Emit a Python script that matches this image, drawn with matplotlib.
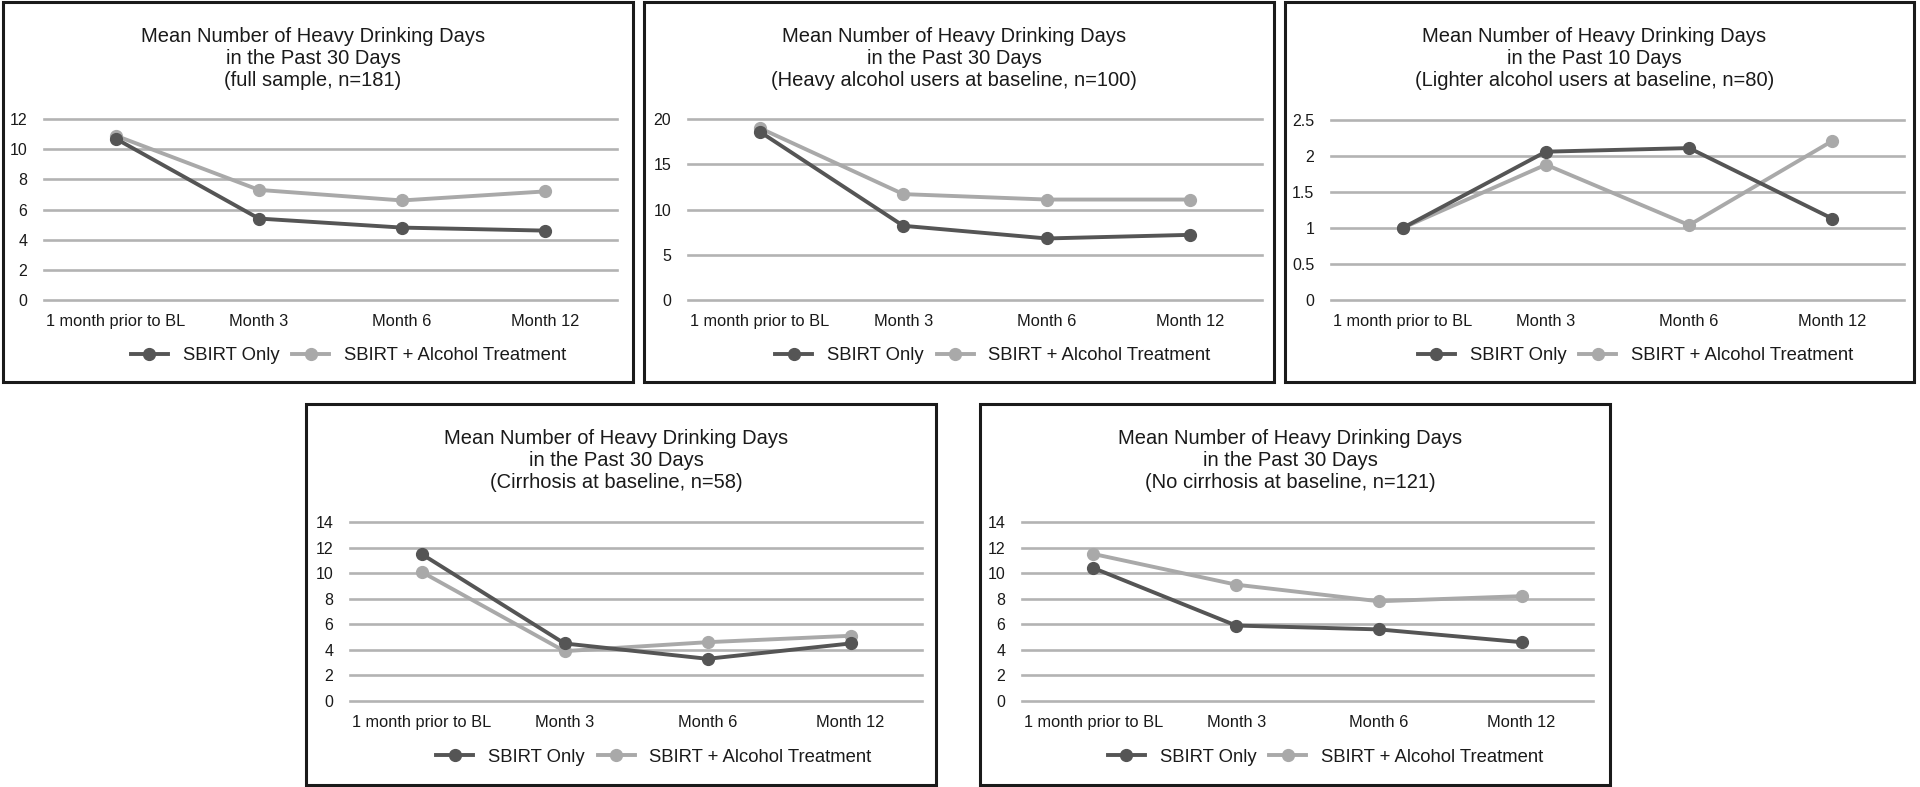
import matplotlib
matplotlib.use("Agg")
import matplotlib.pyplot as plt
from matplotlib.patches import Rectangle
from matplotlib.ticker import FuncFormatter

plt.rcParams['font.family'] = ['Liberation Sans', 'DejaVu Sans']

categories = ["1 month prior to BL", "Month 3", "Month 6", "Month 12"]
series_names = ["SBIRT Only", "SBIRT + Alcohol Treatment"]

full_only = [10.7, 5.4, 4.8, 4.6]
full_tx = [10.9, 7.3, 6.6, 7.2]
heavy_only = [18.6, 8.2, 6.8, 7.2]
heavy_tx = [19.0, 11.7, 11.1, 11.1]
light_only = [1.0, 2.06, 2.11, 1.13]
light_tx = [1.0, 1.88, 1.04, 2.21]
cirr_only = [11.5, 4.5, 3.3, 4.5]
cirr_tx = [10.1, 3.9, 4.6, 5.1]
nocirr_only = [10.4, 5.9, 5.6, 4.6]
nocirr_tx = [11.5, 9.1, 7.8, 8.2]

titles = [
    "Mean Number of Heavy Drinking Days\nin the Past 30 Days\n(full sample, n=181)",
    "Mean Number of Heavy Drinking Days\nin the Past 30 Days\n(Heavy alcohol users at baseline, n=100)",
    "Mean Number of Heavy Drinking Days\nin the Past 10 Days\n(Lighter alcohol users at baseline, n=80)",
    "Mean Number of Heavy Drinking Days\nin the Past 30 Days\n(Cirrhosis at baseline, n=58)",
    "Mean Number of Heavy Drinking Days\nin the Past 30 Days\n(No cirrhosis at baseline, n=121)",
]
y_max = [12, 20, 2.5, 14, 14]
y_step = [2, 5, 0.5, 2, 2]

data = [(full_only, full_tx), (heavy_only, heavy_tx), (light_only, light_tx),
        (cirr_only, cirr_tx), (nocirr_only, nocirr_tx)]

W, H = 1920, 787
# panel boxes (left, top, right, bottom) and axes (left, top, right, bottom), pixels from top-left
boxes = [(3, 2, 633, 382), (644, 2, 1274, 382), (1285, 2, 1914, 382),
         (306, 404, 936, 785), (980, 404, 1610, 785)]
axes_px = [(44, 119, 617, 300), (688, 119, 1262, 300), (1331, 120, 1904, 300),
           (350, 522, 922, 701), (1022, 522, 1593, 701)]

dark = "#555555"
light = "#a9a9a9"
grid_c = "#b3b3b3"
txt = "#1a1a1a"

fig = plt.figure(figsize=(W / 100, H / 100), dpi=100)
fig.patch.set_facecolor("white")


def fx(px):
    return px / W


def fy(py):
    return 1 - py / H


for i in range(5):
    bl, bt, br, bb = boxes[i]
    fig.add_artist(Rectangle((fx(bl), fy(bb)), fx(br - bl), (bb - bt) / H,
                             transform=fig.transFigure, fill=False,
                             edgecolor="#1a1a1a", linewidth=2.2))

    al, at, ar, ab = axes_px[i]
    ax = fig.add_axes([fx(al), fy(ab), fx(ar - al), (ab - at) / H])
    xs = range(len(categories))
    only, tx = data[i]
    ax.plot(xs, only, color=dark, lw=2.8, marker="o", ms=8.5, zorder=3,
            label=series_names[0], clip_on=False)
    ax.plot(xs, tx, color=light, lw=2.8, marker="o", ms=8.5, zorder=2,
            label=series_names[1], clip_on=False)

    ax.set_xlim(-0.5, 3.5)
    ax.set_ylim(0, y_max[i])
    ticks = []
    v = 0
    while v <= y_max[i] + 1e-9:
        ticks.append(v)
        v += y_step[i]
    ax.set_yticks(ticks)
    ax.yaxis.set_major_formatter(FuncFormatter(lambda val, pos: "%g" % val))
    for t in ticks:
        ax.axhline(t, color=grid_c, lw=1.9, zorder=1, clip_on=False)
    ax.set_xticks(list(xs))
    ax.set_xticklabels(categories, fontsize=11.8, color=txt)
    ax.tick_params(axis="y", length=0, pad=12, labelsize=11.5, labelcolor=txt)
    ax.tick_params(axis="x", length=0, pad=10)
    for s in ax.spines.values():
        s.set_visible(False)
    ax.patch.set_alpha(0)

    cx = (bl + br) / 2 - 5
    fig.text(fx(cx), fy(bt + 57), titles[i], ha="center", va="center",
             fontsize=14.5, color=txt, linespacing=1.2)

    leg_x = (al + ar) / 2 + 18
    leg_y = ab + 56
    ax.legend(loc="center", bbox_to_anchor=(fx(leg_x), fy(leg_y)),
              bbox_transform=fig.transFigure, ncol=2, frameon=False,
              fontsize=13.3, handlelength=2.0, handletextpad=0.8,
              columnspacing=0.7, labelcolor=txt)

fig.savefig("out.png", dpi=100, facecolor="white")
